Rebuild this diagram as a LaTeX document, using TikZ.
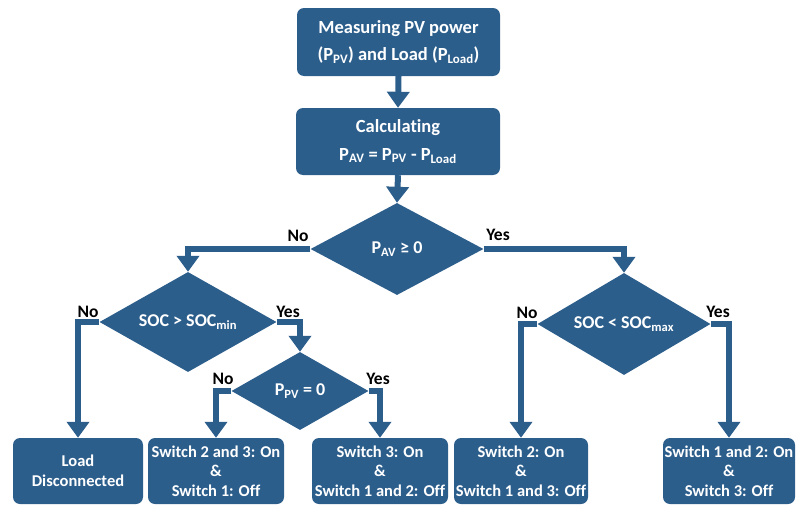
\documentclass[tikz,border=0pt]{standalone}
\usepackage{fontspec}
\setmainfont{Carlito}[Ligatures={NoCommon}]
\usetikzlibrary{shapes.geometric,arrows.meta}
\definecolor{fcblue}{HTML}{2C5E8C}
\tikzset{
  box/.style={draw=none, fill=fcblue, rounded corners=7pt, text=white, font=\bfseries\fontsize{16.5}{19.5}\selectfont, align=center, inner sep=0pt},
  bigbox/.style={box, font=\bfseries\fontsize{18.5}{27.5}\selectfont},
  dec/.style={diamond, fill=fcblue, text=white, font=\bfseries\fontsize{18}{20}\selectfont, inner sep=0pt, aspect=1.8},
  arr/.style={draw=fcblue, line width=6pt, -{Triangle[width=22pt,length=16pt]}},
  lbl/.style={font=\bfseries\fontsize{17.5}{20}\selectfont, text=black, inner sep=0pt}
}
\newcommand{\sbs}[1]{\textsubscript{#1}}
\begin{document}
\begin{tikzpicture}[x=1pt,y=-1pt]
\useasboundingbox (0,0) rectangle (796,506);
\node[bigbox, minimum width=203pt, minimum height=68pt] (m) at (398.5,42) {Measuring PV power\\(P\sbs{PV}) and Load (P\sbs{Load})};
\node[bigbox, minimum width=204pt, minimum height=67pt] (c) at (398,141.5) {Calculating\\P\sbs{AV} = P\sbs{PV} - P\sbs{Load}};
\node[dec, minimum width=173pt, minimum height=92pt] (d1) at (397,249) {P\sbs{AV} ≥ 0};
\node[dec, minimum width=177pt, minimum height=100pt] (d2) at (188,322) {SOC > SOC\sbs{min}};
\node[dec, minimum width=173pt, minimum height=102pt] (d3) at (624,324) {SOC < SOC\sbs{max}};
\node[dec, minimum width=137pt, minimum height=78pt] (d4) at (300,391) {P\sbs{PV} = 0};
\node[box, minimum width=130pt, minimum height=66pt] (b1) at (78,471) {Load\\Disconnected};
\node[box, minimum width=136pt, minimum height=66pt] (b2) at (216,471) {Switch 2 and 3: On\\\&\\Switch 1: Off};
\node[box, minimum width=136pt, minimum height=66pt] (b3) at (380,471) {Switch 3: On\\\&\\Switch 1 and 2: Off};
\node[box, minimum width=134pt, minimum height=66pt] (b4) at (521,471) {Switch 2: On\\\&\\Switch 1 and 3: Off};
\node[box, minimum width=132pt, minimum height=66pt] (b5) at (729,471) {Switch 1 and 2: On\\\&\\Switch 3: Off};
\draw[arr] (m.south) -- (c.north);
\draw[arr] (c.south) -- (d1.north);
\draw[arr] (d1.west) -| (d2.north);
\draw[arr] (d1.east) -| (d3.north);
\draw[arr] (d2.west) -| (b1.north);
\draw[arr] (d2.east) -| (d4.north);
\draw[arr] (d4.west) -| (b2.north);
\draw[arr] (d4.east) -| (b3.north);
\draw[arr] (d3.west) -| (b4.north);
\draw[arr] (d3.east) -| (b5.north);
\node[lbl] (l1) at (298,236) {No};
\node[lbl] (l2) at (498,235) {Yes};
\node[lbl] (l3) at (88,312) {No};
\node[lbl] (l4) at (288,312) {Yes};
\node[lbl] (l5) at (223,379) {No};
\node[lbl] (l6) at (378,379) {Yes};
\node[lbl] (l7) at (527,313) {No};
\node[lbl] (l8) at (718,312) {Yes};
\end{tikzpicture}
\end{document}
